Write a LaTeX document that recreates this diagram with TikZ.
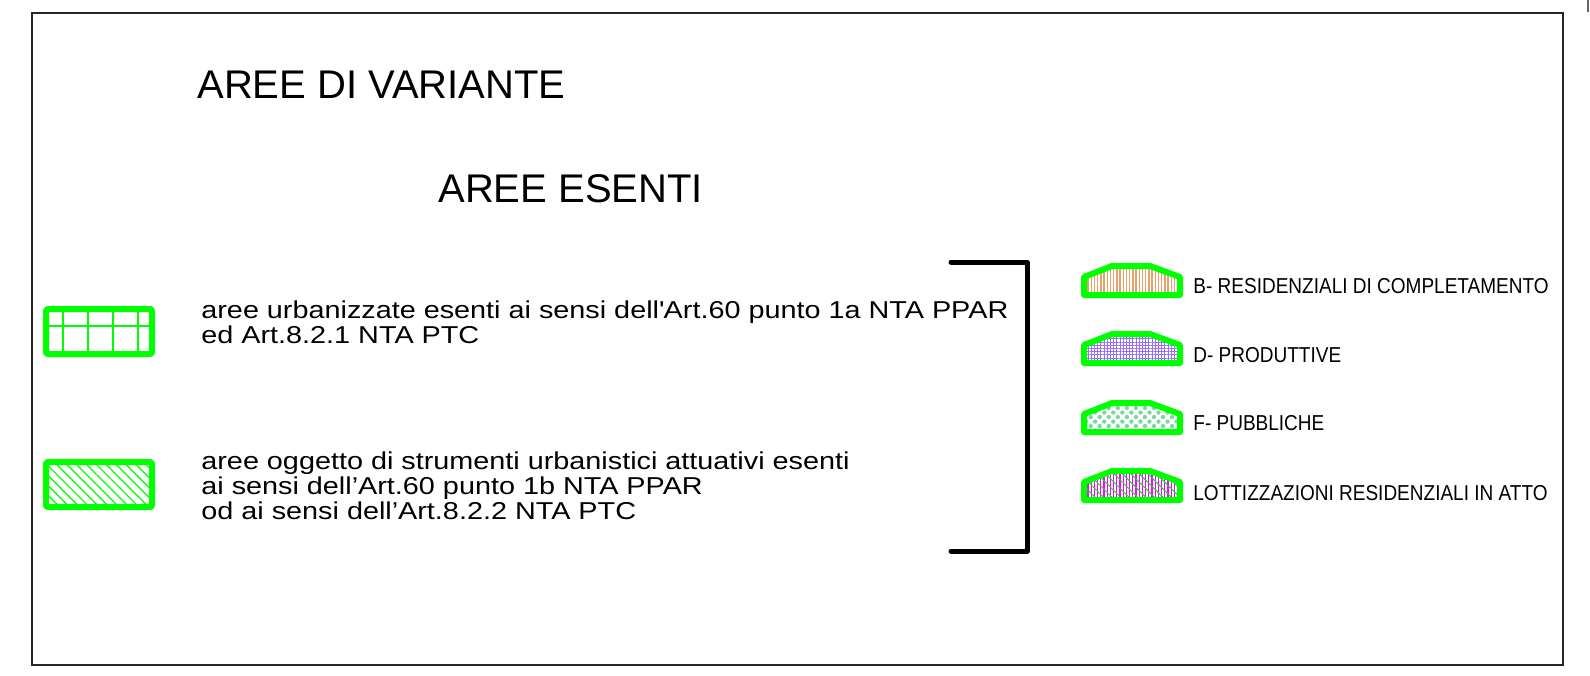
\documentclass[tikz,border=0pt]{standalone}
\usepackage{fontspec}
\setmainfont{Liberation Sans}
\newfontfamily\widefont[FakeStretch=1.18]{Liberation Sans}
\newfontfamily\narrowfont[FakeStretch=0.88]{Liberation Sans}
\usetikzlibrary{patterns.meta}
\definecolor{cadgreen}{RGB}{0,255,0}
\definecolor{tanline}{RGB}{230,160,105}
\definecolor{violetline}{RGB}{150,110,250}
\definecolor{mintdot}{RGB}{120,218,160}
\definecolor{hatchgreen}{RGB}{40,200,60}
\begin{document}
\begin{tikzpicture}[x=0.5pt,y=-0.5pt,
  title/.style={anchor=base west, inner sep=0pt, font=\fontsize{20}{23}\selectfont},
  note/.style={anchor=base west, inner sep=0pt, font=\widefont\fontsize{12.2}{14}\selectfont},
  legend/.style={anchor=base west, inner sep=0pt, font=\narrowfont\fontsize{10.8}{13}\selectfont},
  greenline/.style={draw=cadgreen, line width=3pt, line join=round},
  gridline/.style={draw=cadgreen, line width=1pt},
  zoneB/.style={pattern={Lines[angle=90,distance=1.6pt,line width=0.7pt]}, pattern color=tanline},
  zoneD/.style={pattern={Hatch[angle=0,distance=1.6pt,line width=0.5pt]}, pattern color=violetline},
  zoneF/.style={pattern={Dots[angle=45,distance=3.2pt,radius=1.1pt]}, pattern color=mintdot},
  zoneL/.style={preaction={pattern={Lines[angle=90,distance=1.6pt,line width=0.6pt]}, pattern color=magenta},
    pattern={Lines[angle=-45,distance=3pt,line width=0.5pt]}, pattern color=hatchgreen}]
\useasboundingbox (0,0) rectangle (1590,675);
\draw[line width=0.7pt, black!85] (32,13) rectangle (1563,665);
\draw[line width=0.9pt, black!60] (1588,0) -- (1588,12);

\node[title] (variante) at (197,98) {AREE DI VARIANTE};
\node[title] (esenti) at (438,202) {AREE ESENTI};

% left legend
\draw[greenline, rounded corners=1pt] (46,309) rectangle (152,354);
\draw[gridline] (49,326) -- (149,326);
\foreach \x in {63,88,113,138} \draw[gridline] (\x,312) -- (\x,351);
\draw[greenline, rounded corners=1pt, pattern={Lines[angle=-45,distance=3.5pt,line width=0.6pt]}, pattern color=cadgreen] (46,462) rectangle (152,507);

\node[note] (urb1) at (201,318) {aree urbanizzate esenti ai sensi dell\textquotesingle Art.60 punto 1a NTA PPAR};
\node[note] (urb2) at (201,343) {ed Art.8.2.1 NTA PTC};
\node[note] (ogg1) at (201,469) {aree oggetto di strumenti urbanistici attuativi esenti};
\node[note] (ogg2) at (201,494) {ai sensi dell’Art.60 punto 1b NTA PPAR};
\node[note] (ogg3) at (201,519) {od ai sensi dell’Art.8.2.2 NTA PTC};

\draw[line width=2.5pt, line cap=round, line join=round] (951,262) -- (1027,262) -- (1027,551) -- (951,551);

% right legend
\foreach \dy/\zone in {0/zoneB,68/zoneD,137/zoneF,205/zoneL}
  \draw[shift={(0,\dy)}, greenline, \zone] (1084,295) -- (1084,277) -- (1112,266) -- (1150,266) -- (1180,277) -- (1180,295) -- cycle;
\node[legend] (legB) at (1193,293) {B- RESIDENZIALI DI COMPLETAMENTO};
\node[legend] (legD) at (1193,362) {D- PRODUTTIVE};
\node[legend] (legF) at (1193,430) {F- PUBBLICHE};
\node[legend] (legL) at (1193,500) {LOTTIZZAZIONI RESIDENZIALI IN ATTO};
\end{tikzpicture}
\end{document}
